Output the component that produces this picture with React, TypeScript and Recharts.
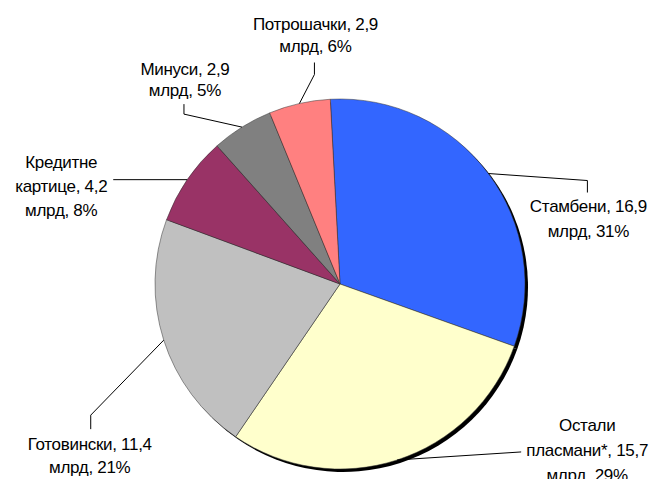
import { PieChart, Pie, Cell } from "recharts";

const names = [
  "Стамбени",
  "Остали пласмани*",
  "Готовински",
  "Кредитне картице",
  "Минуси",
  "Потрошачки",
];
const values = [16.9, 15.7, 11.4, 4.2, 2.9, 2.9];
const shares = [31, 29, 21, 8, 5, 6];

const colors = ["#3366FF", "#FFFFCC", "#C0C0C0", "#993366", "#808080", "#FF8080"];

const data = names.map((name, i) => ({ name, value: values[i], share: shares[i] }));

// leader line bends and text position, relative to the point on the slice edge
const layout = [
  { pts: [[99, 7], [99, 19]], text: [100, 38], gap: 25 },
  { pts: [[124, -8]], text: [190, -29], gap: 25 },
  { pts: [[-73, 75], [-73, 89]], text: [-74, 110], gap: 23 },
  { pts: [[-74, 0]], text: [-126, -12], gap: 24 },
  { pts: [[-58, -13], [-58, -23]], text: [-57, -52], gap: 21 },
  { pts: [[15, -29], [15, -41]], text: [16, -74], gap: 22 },
];

const RADIAN = Math.PI / 180;

function labelLines(i: number) {
  const words = names[i].split(" ");
  const val = `${values[i]}`.replace(".", ",");
  const lines = words.slice(0, -1);
  lines.push(`${words[words.length - 1]}, ${val}`);
  lines.push(`млрд, ${shares[i]}%`);
  return lines;
}

const renderLabel = (props: any) => {
  const { cx, cy, midAngle, outerRadius, index } = props;
  const ex = cx + outerRadius * Math.cos(-midAngle * RADIAN);
  const ey = cy + outerRadius * Math.sin(-midAngle * RADIAN);
  const l = layout[index];
  const path = [[ex, ey], ...l.pts.map(([dx, dy]) => [ex + dx, ey + dy])]
    .map((p) => p.join(","))
    .join(" ");
  const lines = labelLines(index);
  return (
    <g key={`lbl-${index}`}>
      <polyline points={path} fill="none" stroke="#000" strokeWidth={1} />
      <text
        x={ex + l.text[0]}
        y={ey + l.text[1]}
        textAnchor="middle"
        fontFamily="Liberation Sans, Arial, sans-serif"
        fontSize={17}
        letterSpacing={-0.3}
        fill="#000"
      >
        {lines.map((t, k) => (
          <tspan key={k} x={ex + l.text[0]} dy={k === 0 ? 0 : l.gap}>
            {t}
          </tspan>
        ))}
      </text>
    </g>
  );
};

export default function App() {
  return (
    <div style={{ position: "absolute", left: 0, top: 0, background: "#fff" }}>
      <PieChart width={653} height={479} margin={{ top: 0, right: 0, bottom: 0, left: 0 }}>
        <Pie
          data={data}
          dataKey="value"
          cx={343}
          cy={287}
          outerRadius={185}
          startAngle={93}
          endAngle={-267}
          fill="#000"
          stroke="none"
          isAnimationActive={false}
        />
        <Pie
          data={data}
          dataKey="value"
          cx={340}
          cy={284}
          outerRadius={185}
          startAngle={93}
          endAngle={-267}
          stroke="#333"
          strokeWidth={0.5}
          label={renderLabel}
          labelLine={false}
          isAnimationActive={false}
        >
          {data.map((d, i) => (
            <Cell key={d.name} fill={colors[i]} />
          ))}
        </Pie>
      </PieChart>
    </div>
  );
}
